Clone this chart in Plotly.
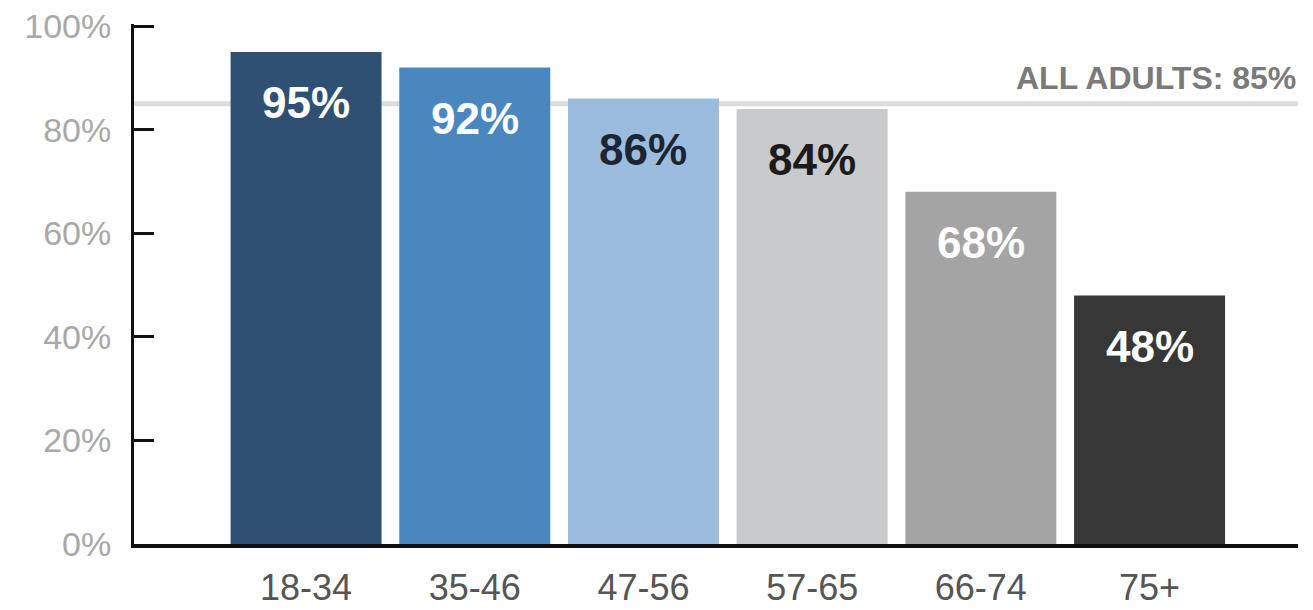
import plotly.graph_objects as go

categories = ["18-34", "35-46", "47-56", "57-65", "66-74", "75+"]
values = [95, 92, 86, 84, 68, 48]
bar_colors = ["#2f4f73", "#4a87bf", "#9bbcdc", "#c9cacc", "#a4a4a4", "#373737"]
label_colors = ["#ffffff", "#ffffff", "#1b2533", "#1b1b1b", "#ffffff", "#ffffff"]
all_adults = 85
y_ticks = [0, 20, 40, 60, 80, 100]
y_tick_text = ["0%", "20%", "40%", "60%", "80%", "100%"]

fig = go.Figure()
fig.add_trace(go.Bar(
    x=categories, y=values, marker=dict(color=bar_colors, line=dict(width=0)),
    width=0.895, hoverinfo="skip", showlegend=False,
))

for c, v, lc in zip(categories, values, label_colors):
    fig.add_annotation(x=c, y=v, text=f"{v}%", showarrow=False,
                       yanchor="middle", yshift=-51,
                       font=dict(family="Liberation Sans, Arial", size=44, color=lc, weight="bold"))

fig.add_shape(type="line", xref="paper", x0=0, x1=1, yref="y", y0=all_adults, y1=all_adults,
              line=dict(color="#dcdcdc", width=5), layer="below")
fig.add_annotation(xref="paper", x=1, xanchor="right", y=all_adults, yanchor="bottom", yshift=6,
                   text=f"ALL ADULTS: {all_adults}%", showarrow=False,
                   font=dict(family="Liberation Sans, Arial", size=32, color="#7a7a7a", weight="bold"))

fig.update_layout(
    width=1305, height=602,
    margin=dict(l=126, r=15, t=16, b=66, autoexpand=False),
    paper_bgcolor="white", plot_bgcolor="white",
    xaxis=dict(
        range=[-1.02, 5.88], showline=True, linecolor="#111111", linewidth=4,
        showgrid=False, zeroline=False, ticks="", automargin=False,
        tickfont=dict(family="Liberation Sans, Arial", size=36, color="#555555"),
        ticklabelstandoff=9, ticklabeloverflow="allow",
    ),
    yaxis=dict(
        range=[0, 100.4], tickvals=y_ticks, ticktext=y_tick_text, automargin=False,
        showline=True, linecolor="#111111", linewidth=3,
        showgrid=False, zeroline=False, ticks="inside", ticklen=20, tickwidth=3, tickcolor="#111111",
        tickfont=dict(family="Liberation Sans, Arial", size=34, color="#a8a8a8"),
        ticklabelstandoff=13, ticklabeloverflow="allow",
    ),
)

fig.write_html("out.html")
